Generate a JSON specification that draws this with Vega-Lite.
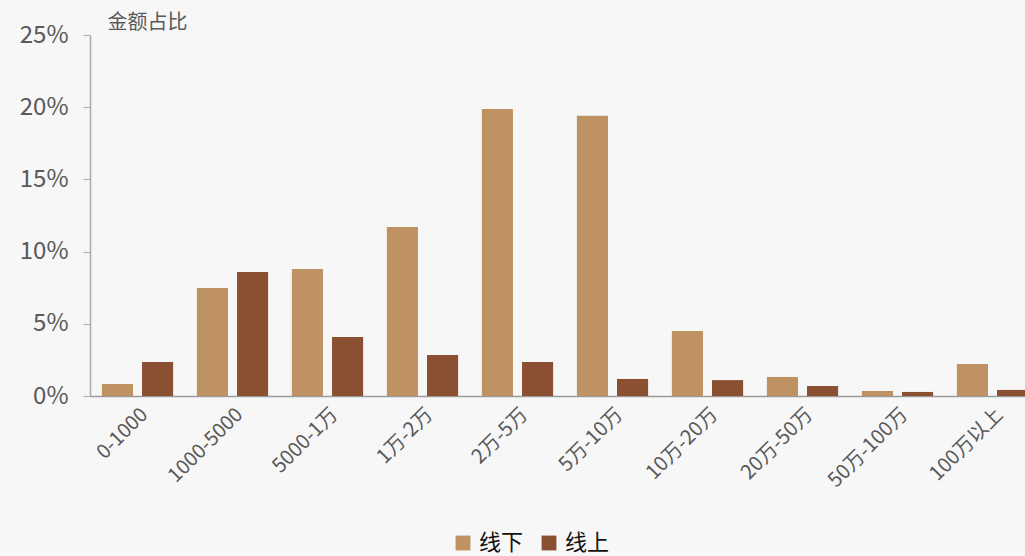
{
  "$schema": "https://vega.github.io/schema/vega-lite/v6.json",
  "autosize": "none",
  "width": 950,
  "height": 361,
  "padding": {"left": 90, "top": 35, "right": 0, "bottom": 160},
  "background": "#f7f7f7",
  "config": {
    "view": {"stroke": null},
    "font": "Noto Sans CJK SC"
  },
  "data": {
    "values": [
      {"range": "0-1000", "channel": "线下", "share": 0.0083},
      {"range": "0-1000", "channel": "线上", "share": 0.0235},
      {"range": "1000-5000", "channel": "线下", "share": 0.0748},
      {"range": "1000-5000", "channel": "线上", "share": 0.0859},
      {"range": "5000-1万", "channel": "线下", "share": 0.088},
      {"range": "5000-1万", "channel": "线上", "share": 0.0409},
      {"range": "1万-2万", "channel": "线下", "share": 0.117},
      {"range": "1万-2万", "channel": "线上", "share": 0.0284},
      {"range": "2万-5万", "channel": "线下", "share": 0.1988},
      {"range": "2万-5万", "channel": "线上", "share": 0.0235},
      {"range": "5万-10万", "channel": "线下", "share": 0.194},
      {"range": "5万-10万", "channel": "线上", "share": 0.0118},
      {"range": "10万-20万", "channel": "线下", "share": 0.045},
      {"range": "10万-20万", "channel": "线上", "share": 0.011},
      {"range": "20万-50万", "channel": "线下", "share": 0.0132},
      {"range": "20万-50万", "channel": "线上", "share": 0.0069},
      {"range": "50万-100万", "channel": "线下", "share": 0.0035},
      {"range": "50万-100万", "channel": "线上", "share": 0.0028},
      {"range": "100万以上", "channel": "线下", "share": 0.0222},
      {"range": "100万以上", "channel": "线上", "share": 0.0042}
    ]
  },
  "mark": {"type": "bar"},
  "encoding": {
    "x": {
      "field": "range",
      "type": "nominal",
      "sort": null,
      "scale": {"paddingInner": 0.25, "paddingOuter": 0.125},
      "axis": {
        "title": null,
        "labelAngle": -45,
        "labelFontSize": 20,
        "labelColor": "#595959",
        "labelPadding": 8,
        "ticks": false,
        "domainColor": "#9a9a9a",
        "domainWidth": 1.5
      }
    },
    "xOffset": {
      "field": "channel",
      "type": "nominal",
      "sort": ["线下", "线上"],
      "scale": {"paddingInner": 0.225, "paddingOuter": 0}
    },
    "y": {
      "field": "share",
      "type": "quantitative",
      "scale": {"domain": [0, 0.25], "nice": false},
      "axis": {
        "title": "金额占比",
        "titleAngle": 0,
        "titleAlign": "left",
        "titleBaseline": "bottom",
        "titleX": 17,
        "titleY": -3,
        "titleFontSize": 20,
        "titleFontWeight": "normal",
        "titleColor": "#595959",
        "values": [0, 0.05, 0.1, 0.15, 0.2, 0.25],
        "format": ".0%",
        "labelFontSize": 24,
        "labelColor": "#595959",
        "labelPadding": 15,
        "tickSize": 7,
        "tickColor": "#aaaaaa",
        "domainColor": "#aaaaaa",
        "domainWidth": 1.5,
        "grid": false
      }
    },
    "color": {
      "field": "channel",
      "type": "nominal",
      "sort": ["线下", "线上"],
      "scale": {"domain": ["线下", "线上"], "range": ["#be9263", "#8b5032"]},
      "legend": {
        "title": null,
        "orient": "none",
        "direction": "horizontal",
        "legendX": 362,
        "legendY": 497,
        "symbolType": "square",
        "symbolSize": 220,
        "symbolStrokeWidth": 0,
        "labelFontSize": 22,
        "labelColor": "#111111",
        "columnPadding": 14,
        "labelOffset": 5
      }
    }
  }
}
